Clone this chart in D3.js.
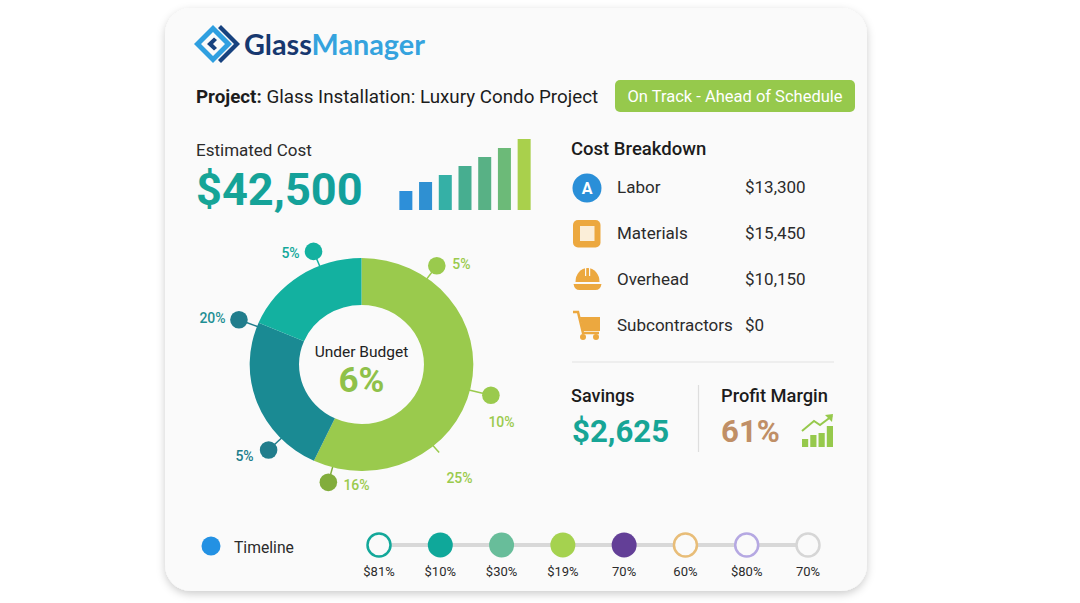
<!DOCTYPE html>
<html>
<head>
<meta charset="utf-8">
<script src="https://cdn.jsdelivr.net/npm/d3@7"></script>
<style>
  html, body { margin: 0; padding: 0; background: #fff; overflow: hidden; }
  text { font-family: Roboto, sans-serif; }
</style>
</head>
<body>
<script>
const width = 1080, height = 603;

// trend bars next to the estimated cost
const barValues = [19, 28, 35, 44, 53, 62, 71];
const barColors = ["#2d8fd9", "#2f90d2", "#35b0a6", "#47ae90", "#58b185", "#6cba78", "#a9d04c"];

// donut
const sliceNames = ["Green", "Dark teal", "Teal"];
const sliceValues = [57, 24.4, 18.6];
const sliceColors = ["#9aca4d", "#1a8a93", "#13b1a0"];

// callouts around the donut (angle in degrees clockwise from the top)
const calloutLabels = ["5%", "10%", "25%", "16%", "5%", "20%", "5%"];
const calloutAngles = [36, 104, 140, 195, 226, 291, 338];
const calloutRadii = [122, 127, 115, 122, 123, 125, 122];
const calloutHasDot = [true, true, false, true, true, true, true];
const calloutDotColors = ["#9aca4d", "#9aca4d", "#9aca4d", "#82ad3c", "#217d8c", "#217d8c", "#13b1a0"];
const calloutTextColors = ["#9aca4d", "#9aca4d", "#9aca4d", "#9aca4d", "#217d8c", "#1f8f94", "#13a89a"];

// cost breakdown
const costNames = ["Labor", "Materials", "Overhead", "Subcontractors"];
const costValues = ["$13,300", "$15,450", "$10,150", "$0"];

// timeline
const timelineLabels = ["$81%", "$10%", "$30%", "$19%", "70%", "60%", "$80%", "70%"];
const timelineStroke = ["#13a89a", "#0fa89a", "#68bd9a", "#a5d24f", "#633f97", "#e8bd78", "#b5a8e2", "#d6d6d6"];
const timelineFilled = [false, true, true, true, true, false, false, false];

const svg = d3.select("body").append("svg")
  .attr("width", width)
  .attr("height", height)
  .style("display", "block");

const defs = svg.append("defs");
const shadow = defs.append("filter").attr("id", "cardShadow")
  .attr("x", "-5%").attr("y", "-5%").attr("width", "110%").attr("height", "110%");
shadow.append("feDropShadow")
  .attr("dx", 0).attr("dy", 3).attr("stdDeviation", 4)
  .attr("flood-color", "#000").attr("flood-opacity", 0.2);

const estGrad = defs.append("linearGradient").attr("id", "estGrad");
estGrad.append("stop").attr("offset", "0%").attr("stop-color", "#17a596");
estGrad.append("stop").attr("offset", "100%").attr("stop-color", "#129f9c");

svg.append("rect")
  .attr("x", 165).attr("y", 8)
  .attr("width", 702).attr("height", 583)
  .attr("rx", 26)
  .attr("fill", "#fafafa")
  .attr("filter", "url(#cardShadow)");

function label(x, y, str, size, weight, fill, anchor) {
  return svg.append("text")
    .attr("x", x).attr("y", y)
    .attr("font-size", size)
    .attr("font-weight", weight)
    .attr("fill", fill)
    .attr("text-anchor", anchor || "start")
    .text(str);
}

// logo
const logo = svg.append("g").attr("transform", "translate(213, 44)");
logo.append("path")
  .attr("d", "M-19,0 L0,-19 L19,0 L0,19 Z M-12,0 L0,12 L12,0 L0,-12 Z")
  .attr("fill", "#2f9fe0").attr("fill-rule", "evenodd");
logo.append("path").attr("d", "M8,-19 L27,0 L8,19 L5,16 L21,0 L5,-16 Z").attr("fill", "#17427f");
logo.append("path").attr("d", "M1,-6.5 L-6,0 L1,6.5 L4,4 L0,0 L4,-4 Z").attr("fill", "#17427f");

const logoText = svg.append("text").attr("x", 244).attr("y", 54.5)
  .attr("font-size", 28.8).attr("font-weight", 700)
  .style("font-family", "Lato, sans-serif");
logoText.append("tspan").attr("fill", "#17386f").text("Glass");
logoText.append("tspan").attr("fill", "#35a3de").text("Manager");

// project line
const project = svg.append("text").attr("x", 196).attr("y", 102.5)
  .attr("font-size", 18.8).attr("fill", "#1c1c1c");
project.append("tspan").attr("font-weight", 700).text("Project:");
project.append("tspan").attr("font-weight", 400).text(" Glass Installation: Luxury Condo Project");

svg.append("rect").attr("x", 615).attr("y", 80).attr("width", 240).attr("height", 32)
  .attr("rx", 5).attr("fill", "#96c94c");
label(735, 102, "On Track - Ahead of Schedule", 16.5, 400, "#fff", "middle");

// estimated cost
label(196, 156, "Estimated Cost", 17, 400, "#2b2b2b");
label(196, 205, "$42,500", 45.2, 700, "url(#estGrad)");

const xBar = d3.scaleBand().domain(d3.range(barValues.length)).range([396, 534]).paddingInner(0.34).paddingOuter(0.17);
const yBar = d3.scaleLinear().domain([0, 71]).range([210, 139]);
svg.append("g").selectAll("rect")
  .data(barValues)
  .enter().append("rect")
  .attr("x", (d, i) => xBar(i))
  .attr("y", d => yBar(d))
  .attr("width", xBar.bandwidth())
  .attr("height", d => yBar(0) - yBar(d))
  .attr("fill", (d, i) => barColors[i]);

// donut, slightly wider than tall like the reference
const cx = 361.5, cy = 364.5, outerR = 106.5, innerR = 59.5, stretchX = 1.05;
const donut = svg.append("g").attr("transform", `translate(${cx}, ${cy})`);
const pie = d3.pie().sort(null)(sliceValues);
const arc = d3.arc().innerRadius(innerR).outerRadius(outerR);

const polar = (deg, r) => {
  const a = deg * Math.PI / 180;
  return [stretchX * r * Math.sin(a), -r * Math.cos(a)];
};
const calloutTextPos = [[100, -100], [140, 58], [98, 114], [-5, 121], [-117, 92], [-149, -46], [-71, -111]];

calloutAngles.forEach((deg, i) => {
  const p0 = polar(deg, outerR - 1);
  const p1 = polar(deg, calloutRadii[i]);
  donut.append("line")
    .attr("x1", p0[0]).attr("y1", p0[1])
    .attr("x2", p1[0]).attr("y2", p1[1])
    .attr("stroke", calloutDotColors[i])
    .attr("stroke-width", 1.5);
  if (calloutHasDot[i]) {
    donut.append("circle")
      .attr("cx", p1[0]).attr("cy", p1[1])
      .attr("r", 8.8)
      .attr("fill", calloutDotColors[i]);
  }
  donut.append("text")
    .attr("x", calloutTextPos[i][0]).attr("y", calloutTextPos[i][1])
    .attr("dy", "0.35em")
    .attr("text-anchor", "middle")
    .attr("font-size", 14)
    .attr("font-weight", 500)
    .attr("fill", calloutTextColors[i])
    .text(calloutLabels[i]);
});

donut.append("g")
  .attr("transform", `scale(${stretchX}, 1)`)
  .selectAll("path")
  .data(pie)
  .enter().append("path")
  .attr("d", arc)
  .attr("fill", (d, i) => sliceColors[i]);

label(361.5, 357, "Under Budget", 15.5, 400, "#222", "middle");
label(361.5, 392, "6%", 35, 700, "#8fc14a", "middle");

// cost breakdown
label(571, 155, "Cost Breakdown", 18.5, 500, "#1c1c1c");
const yCost = d3.scalePoint().domain(costNames).range([187, 325]);
costNames.forEach((name, i) => {
  label(617, yCost(name) + 6, name, 17, 400, "#2b2b2b");
  label(745, yCost(name) + 6, costValues[i], 17, 400, "#2b2b2b");
});

// icons
const orange = "#eca83f";
svg.append("circle").attr("cx", 587).attr("cy", 188).attr("r", 14.5).attr("fill", "#2a8fd8");
label(587, 194, "A", 16, 700, "#fff", "middle");

svg.append("rect").attr("x", 573).attr("y", 220).attr("width", 27.5).attr("height", 27.5).attr("rx", 5).attr("fill", orange);
svg.append("rect").attr("x", 580).attr("y", 226).attr("width", 14.5).attr("height", 15).attr("fill", "#fbeed8");

const hat = svg.append("g").attr("transform", "translate(587.5, 282)");
hat.append("path").attr("d", "M-12,0 A12,14 0 0 1 12,0 Z").attr("fill", orange);
hat.append("rect").attr("x", -2.5).attr("y", -15).attr("width", 1.2).attr("height", 9).attr("fill", "#fafafa");
hat.append("rect").attr("x", 1.5).attr("y", -15).attr("width", 1.2).attr("height", 9).attr("fill", "#fafafa");
hat.append("path").attr("d", "M-14,2 L14,2 Q13,8 8,8 L-8,8 Q-13,8 -14,2 Z").attr("fill", orange);

const cart = svg.append("g").attr("transform", "translate(573, 311)");
cart.append("path").attr("d", "M0,1 L5,1 L10,22 L26,22").attr("fill", "none").attr("stroke", orange).attr("stroke-width", 2.5);
cart.append("path").attr("d", "M7,6 L27,6 L27,20 L10,20 Z").attr("fill", orange);
cart.append("circle").attr("cx", 10).attr("cy", 26).attr("r", 3).attr("fill", orange);
cart.append("circle").attr("cx", 23).attr("cy", 26).attr("r", 3).attr("fill", orange);

// savings and margin
svg.append("line").attr("x1", 572).attr("x2", 834).attr("y1", 362).attr("y2", 362).attr("stroke", "#e2e2e2").attr("stroke-width", 1.2);
svg.append("line").attr("x1", 698.5).attr("x2", 698.5).attr("y1", 385).attr("y2", 452).attr("stroke", "#dedede").attr("stroke-width", 1.2);
label(571, 402, "Savings", 18, 500, "#1c1c1c");
label(572, 442, "$2,625", 31.2, 700, "#17a596");
label(721, 402, "Profit Margin", 18.3, 500, "#1c1c1c");
label(721, 442, "61%", 31.2, 700, "#c08f66");

const miniHeights = [8, 12, 14, 21];
const xMini = d3.scaleBand().domain(d3.range(miniHeights.length)).range([802, 833]).paddingInner(0.25);
svg.append("g").selectAll("rect")
  .data(miniHeights)
  .enter().append("rect")
  .attr("x", (d, i) => xMini(i))
  .attr("y", d => 447 - d)
  .attr("width", xMini.bandwidth())
  .attr("height", d => d)
  .attr("fill", "#96c94c");
svg.append("path").attr("d", "M802,431 L814,421 L820,425 L832,416").attr("fill", "none").attr("stroke", "#96c94c").attr("stroke-width", 2);
svg.append("path").attr("d", "M825,415 L833,414 L832,422 Z").attr("fill", "#96c94c");

// timeline
svg.append("circle").attr("cx", 211).attr("cy", 546).attr("r", 9.5).attr("fill", "#2391e3");
label(234, 553, "Timeline", 15.7, 400, "#2b2b2b");

const xTime = d3.scalePoint().domain(d3.range(timelineLabels.length)).range([379, 808]);
svg.append("line").attr("x1", xTime(0)).attr("x2", xTime(7)).attr("y1", 545).attr("y2", 545)
  .attr("stroke", "#d8d8d8").attr("stroke-width", 4);
timelineLabels.forEach((t, i) => {
  const filled = timelineFilled[i];
  svg.append("circle")
    .attr("cx", xTime(i)).attr("cy", 545)
    .attr("r", filled ? 12.5 : 11.5)
    .attr("fill", filled ? timelineStroke[i] : "#fafafa")
    .attr("stroke", filled ? "none" : timelineStroke[i])
    .attr("stroke-width", 2.5);
  label(xTime(i), 576, t, 13, 400, "#2b2b2b", "middle");
});
</script>
</body>
</html>
